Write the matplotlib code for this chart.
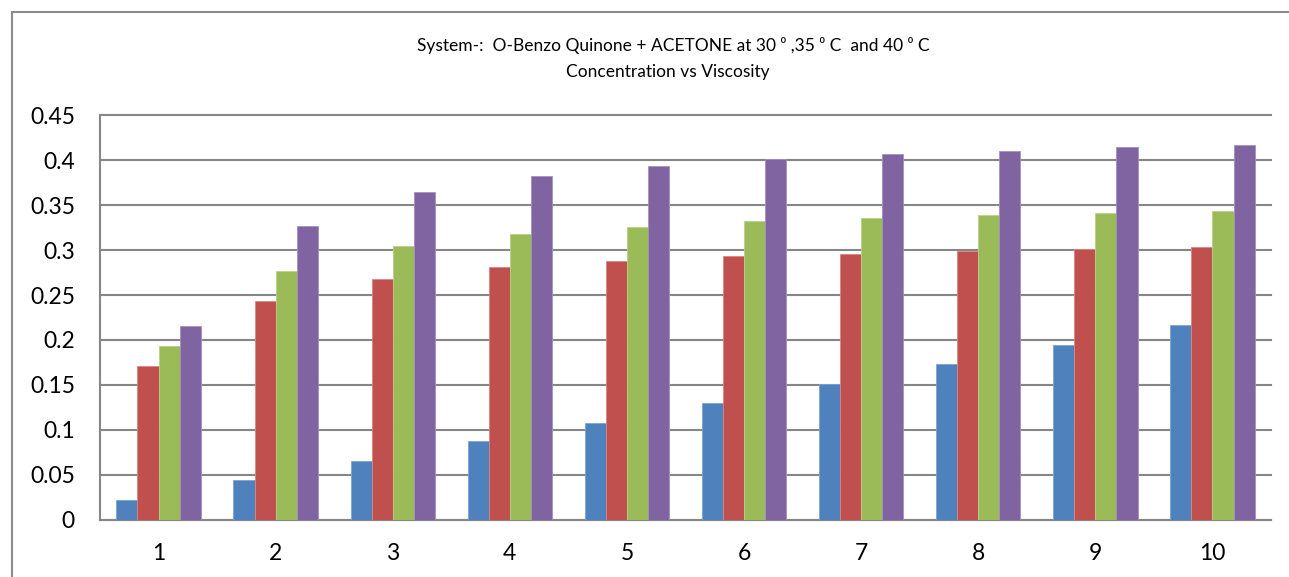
import numpy as np
import matplotlib
matplotlib.use('agg')
import matplotlib.pyplot as plt
from matplotlib.lines import Line2D

plt.rcParams['font.family'] = ['Lato', 'DejaVu Sans']

# concentration index on x, viscosity for each temperature series
concentration = [1, 2, 3, 4, 5, 6, 7, 8, 9, 10]
visc_a = [0.022, 0.0435, 0.065, 0.087, 0.108, 0.130, 0.151, 0.173, 0.1946, 0.2166]
visc_b = [0.171, 0.243, 0.268, 0.281, 0.288, 0.293, 0.296, 0.299, 0.301, 0.303]
visc_c = [0.193, 0.277, 0.305, 0.318, 0.326, 0.332, 0.336, 0.339, 0.3417, 0.3436]
visc_d = [0.215, 0.327, 0.365, 0.383, 0.394, 0.401, 0.407, 0.411, 0.4146, 0.4168]
y_ticks = [0, 0.05, 0.1, 0.15, 0.2, 0.25, 0.3, 0.35, 0.4, 0.45]
y_labels = ['0', '0.05', '0.1', '0.15', '0.2', '0.25', '0.3', '0.35', '0.4', '0.45']

series = [visc_a, visc_b, visc_c, visc_d]
colors = ['#4F81BD', '#C0504D', '#9BBB59', '#8064A2']
edges = ['#7FA3D3', '#D88683', '#B9D18A', '#A491BE']

W, H = 1289, 577
fig = plt.figure(figsize=(W / 100, H / 100), dpi=100)

# outer chart frame: only the left and top edges are inside the canvas
fx, fy = 11.5 / W, 1 - 11.5 / H
fig.lines.append(Line2D([fx, fx], [0, fy], transform=fig.transFigure,
                        color='#8C8C8C', linewidth=1.5))
fig.lines.append(Line2D([fx, 1], [fy, fy], transform=fig.transFigure,
                        color='#8C8C8C', linewidth=1.5))

ax = fig.add_axes([100 / W, 1 - 519.5 / H, (1271 - 100) / W, (519.5 - 115.5) / H])

x = np.arange(len(concentration))
bw = 0.18
for i, (vals, c, e) in enumerate(zip(series, colors, edges)):
    ax.bar(x + (i - 1.5) * bw, vals, width=bw, color=c, edgecolor=e,
           linewidth=0.6, zorder=3)

ax.set_xlim(-0.5, len(concentration) - 0.5)
ax.set_ylim(0, 0.45)
ax.set_yticks(y_ticks)
ax.set_yticklabels(y_labels)
ax.set_xticks(x)
ax.set_xticklabels([str(c) for c in concentration])
ax.tick_params(length=0, labelsize=16.5, colors='black')
ax.tick_params(axis='y', pad=18)
ax.tick_params(axis='x', pad=17)

ax.grid(axis='y', color='#868686', linewidth=1.5, zorder=0)
for gl in ax.get_ygridlines():
    gl.set_clip_on(False)
for s in ['top', 'right']:
    ax.spines[s].set_visible(False)
for s in ['left', 'bottom']:
    ax.spines[s].set_color('#868686')
    ax.spines[s].set_linewidth(1.5)

fig.text(673 / W, 1 - 46 / H,
         'System-:  O-Benzo Quinone + ACETONE at 30 \u2070 ,35 \u2070 C  and 40 \u2070 C',
         ha='center', va='center', fontsize=12.5)
fig.text(668 / W, 1 - 72 / H, 'Concentration vs Viscosity',
         ha='center', va='center', fontsize=12.5)

fig.savefig('out.png', dpi=100)
